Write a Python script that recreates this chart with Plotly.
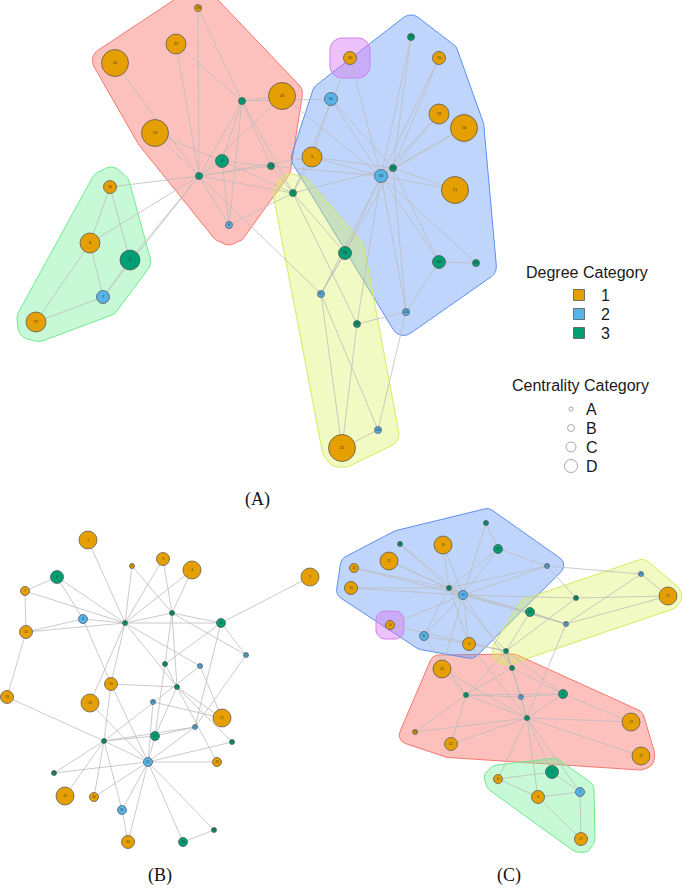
import plotly.graph_objects as go
import numpy as np

# ---------------- DATA ----------------
node_ids = list(range(1, 35))
degree_cat = [3, 3, 3, 3, 3, 1, 2, 2, 1, 1, 1, 1, 1, 3, 1, 1, 1, 1, 1, 1,
              1, 1, 3, 2, 1, 2, 3, 3, 3, 3, 2, 2, 3, 2]
centrality_cat = ['A', 'A', 'A', 'B', 'C', 'C', 'B', 'A', 'C', 'B',
                  'B', 'D', 'D', 'A', 'B', 'D', 'C', 'A', 'C', 'D',
                  'D', 'C', 'A', 'A', 'D', 'A', 'A', 'A', 'B', 'B',
                  'B', 'A', 'A', 'B']
community = ['R', 'R', 'Y', 'R', 'G', 'G', 'G', 'R', 'B', 'P',
             'G', 'R', 'R', 'R', 'B', 'B', 'G', 'R', 'B', 'R',
             'B', 'R', 'B', 'B', 'Y', 'Y', 'B', 'Y', 'Y', 'B',
             'B', 'Y', 'B', 'B']
edges = [(1, 2), (1, 3), (1, 4), (1, 5), (1, 6), (1, 7), (1, 8), (1, 9), (1, 11), (1, 12),
         (1, 13), (1, 14), (1, 18), (1, 20), (1, 22), (1, 32),
         (2, 3), (2, 4), (2, 8), (2, 14), (2, 18), (2, 20), (2, 22), (2, 31),
         (3, 4), (3, 8), (3, 9), (3, 10), (3, 14), (3, 28), (3, 29), (3, 33),
         (4, 8), (4, 13), (4, 14), (5, 7), (5, 11), (6, 7), (6, 11), (6, 17), (7, 17),
         (9, 31), (9, 33), (9, 34), (10, 34), (14, 34), (15, 33), (15, 34), (16, 33), (16, 34),
         (19, 33), (19, 34), (20, 34), (21, 33), (21, 34), (23, 33), (23, 34),
         (24, 26), (24, 28), (24, 30), (24, 33), (24, 34), (25, 26), (25, 28), (25, 32),
         (26, 32), (27, 30), (27, 34), (28, 34), (29, 32), (29, 34), (30, 33), (30, 34),
         (31, 33), (31, 34), (32, 33), (32, 34), (33, 34)]

degree_labels = ['1', '2', '3']
centrality_labels = ['A', 'B', 'C', 'D']
panel_labels = ['(A)', '(B)', '(C)']

# layout coordinates (node id order)
layout_A_x = [199, 242, 293, 222, 130, 90, 103, 229, 312, 350, 110, 115, 155, 271, 439, 464, 36, 198, 439, 282,
              455, 176, 411, 406, 342, 378, 476, 357, 345, 439, 331, 321, 393, 381]
layout_A_y = [176, 101, 193, 161, 260, 243, 297, 225, 157, 58, 187, 63, 133, 166, 58, 128, 322, 8, 114, 96,
              190, 44, 37, 312, 448, 430, 263, 324, 253, 262, 99, 294, 168, 176]
layout_C_x = [527, 466, 506, 563, 552, 538, 580, 521, 469, 390, 498, 641, 631, 512, 354, 443, 581, 415, 351, 442,
              389, 451, 400, 547, 668, 641, 486, 576, 530, 498, 424, 566, 449, 463]
layout_C_y = [718, 695, 651, 694, 772, 797, 792, 697, 644, 625, 779, 756, 722, 668, 568, 545, 839, 732, 588, 669,
              561, 744, 544, 566, 596, 574, 523, 598, 612, 549, 636, 624, 588, 595]

# panel B
b_x = [88, 132, 163, 192, 310, 57, 25, 83, 125, 172, 221, 26, 246, 165, 200, 111, 177, 7, 90, 153,
       222, 195, 155, 104, 232, 217, 148, 54, 65, 94, 122, 128, 183, 214]
b_y = [540, 566, 559, 570, 577, 577, 591, 619, 623, 613, 623, 632, 655, 664, 666, 684, 687, 697, 703, 702,
       718, 727, 736, 741, 742, 762, 762, 773, 796, 797, 810, 842, 842, 830]
b_deg = [1, 1, 1, 1, 1, 3, 1, 2, 3, 3, 3, 1, 2, 3, 2, 1, 3, 1, 1, 2, 1, 2, 3, 3, 3, 1, 2, 3, 1, 1, 2, 1, 3, 3]
b_cent = ['D', 'A', 'C', 'D', 'D', 'C', 'B', 'B', 'A', 'A', 'B', 'C', 'A', 'A', 'A', 'C', 'A', 'C', 'D', 'A',
          'D', 'A', 'B', 'A', 'A', 'B', 'B', 'A', 'D', 'B', 'B', 'C', 'B', 'A']
b_edges = [(1, 9), (2, 9), (2, 10), (3, 9), (3, 10), (4, 9), (4, 10), (5, 11), (6, 7), (6, 9), (6, 8), (7, 12),
           (7, 9), (8, 9), (8, 12), (8, 16), (9, 10), (9, 11), (12, 9), (12, 18), (9, 16), (9, 17), (9, 15),
           (9, 19), (10, 11), (10, 13), (10, 17), (10, 23), (11, 14), (11, 22), (11, 13), (13, 22), (14, 17),
           (15, 24), (15, 21), (16, 17), (16, 24), (16, 27), (17, 23), (17, 21), (17, 26), (17, 25), (18, 24),
           (19, 27), (20, 21), (20, 27), (22, 23), (22, 24), (22, 27), (23, 24), (23, 27), (24, 27), (24, 29),
           (24, 30), (24, 31), (24, 28), (25, 27), (26, 27), (27, 28), (27, 30), (27, 31), (27, 32), (27, 33),
           (27, 34), (33, 34), (31, 32)]

# ---------------- STYLE ----------------
deg_colors = {1: '#E69F00', 2: '#56B4E9', 3: '#009E73'}
size_big = {'A': 7, 'B': 13, 'C': 20, 'D': 27}
size_small = {'A': 5, 'B': 9, 'C': 13, 'D': 18}
hull_style = {
    'R': ('#F8766D', 'rgba(248,118,109,0.45)'),
    'Y': ('#D2EC5C', 'rgba(216,242,95,0.38)'),
    'G': ('#6EEB8E', 'rgba(110,240,150,0.38)'),
    'B': ('#5B8FF0', 'rgba(97,150,245,0.40)'),
    'P': ('#D67CF0', 'rgba(215,120,245,0.45)'),
}
EDGE_COLOR = '#BDBDBD'
OUTLINE = '#4D4D4D'


def convex_hull(points):
    pts = sorted(set(points))
    if len(pts) <= 2:
        return pts

    def cross(o, a, b):
        return (a[0] - o[0]) * (b[1] - o[1]) - (a[1] - o[1]) * (b[0] - o[0])
    lower = []
    for p in pts:
        while len(lower) >= 2 and cross(lower[-2], lower[-1], p) <= 0:
            lower.pop()
        lower.append(p)
    upper = []
    for p in reversed(pts):
        while len(upper) >= 2 and cross(upper[-2], upper[-1], p) <= 0:
            upper.pop()
        upper.append(p)
    return lower[:-1] + upper[:-1]


def mark_hull(xs, ys, expand, radius, mlimit=1.6):
    hull = convex_hull(list(zip(xs, ys)))
    d = expand - radius
    if len(hull) == 1:
        x0, y0 = hull[0]
        core = [(x0 - d, y0 - d), (x0 + d, y0 - d), (x0 + d, y0 + d), (x0 - d, y0 + d)]
    elif len(hull) == 2:
        a, b = np.array(hull[0], float), np.array(hull[1], float)
        e = (b - a) / np.linalg.norm(b - a)
        nrm = np.array([e[1], -e[0]])
        core = [tuple(a - e * d + nrm * d), tuple(a - e * d - nrm * d),
                tuple(b + e * d - nrm * d), tuple(b + e * d + nrm * d)]
    else:
        H = np.array(hull, float)
        c = H.mean(axis=0)
        n = len(H)
        core = []

        def outward(a, b):
            e = (b - a) / np.linalg.norm(b - a)
            nrm = np.array([e[1], -e[0]])
            if np.dot(nrm, (a + b) / 2 - c) < 0:
                nrm = -nrm
            return nrm
        for i in range(n):
            p0, p1, p2 = H[i - 1], H[i], H[(i + 1) % n]
            n1, n2 = outward(p0, p1), outward(p1, p2)
            bis = n1 + n2
            bl = np.linalg.norm(bis)
            cos_half = bl / 2
            if cos_half < 1.0 / mlimit:
                core.append(tuple(p1 + n1 * d))
                core.append(tuple(p1 + bis / bl * d))
                core.append(tuple(p1 + n2 * d))
            else:
                core.append(tuple(p1 + bis / bl * d / cos_half))
    t = np.linspace(0, 2 * np.pi, 72, endpoint=False)
    pts = [(x + radius * np.cos(a), y + radius * np.sin(a)) for (x, y) in core for a in t]
    final = convex_hull(pts)
    final.append(final[0])
    return [p[0] for p in final], [p[1] for p in final]


fig = go.Figure()


def add_hulls(xs, ys, expand, radius):
    for g in ['R', 'B', 'Y', 'G', 'P']:
        gx = [xs[i] for i in range(len(xs)) if community[i] == g]
        gy = [ys[i] for i in range(len(ys)) if community[i] == g]
        hx, hy = mark_hull(gx, gy, expand, radius)
        lc, fc = hull_style[g]
        fig.add_trace(go.Scatter(x=hx, y=hy, mode='lines', fill='toself', fillcolor=fc,
                                 line=dict(color=lc, width=1), hoverinfo='skip', showlegend=False))


def add_network(xs, ys, elist, degs, cents, labels, sizemap, fsize):
    ex, ey = [], []
    for a, b in elist:
        ex += [xs[a - 1], xs[b - 1], None]
        ey += [ys[a - 1], ys[b - 1], None]
    fig.add_trace(go.Scatter(x=ex, y=ey, mode='lines', line=dict(color=EDGE_COLOR, width=0.8),
                             hoverinfo='skip', showlegend=False))
    fig.add_trace(go.Scatter(
        x=xs, y=ys, mode='markers+text', text=[str(l) for l in labels],
        textposition='middle center', textfont=dict(size=fsize, color='#333333', family='Liberation Sans'),
        marker=dict(size=[sizemap[c] for c in cents], color=[deg_colors[d] for d in degs],
                    line=dict(color=OUTLINE, width=0.7), opacity=1),
        hoverinfo='text', showlegend=False))


# Panel A
add_hulls(layout_A_x, layout_A_y, 20, 12)
add_network(layout_A_x, layout_A_y, edges, degree_cat, centrality_cat, node_ids, size_big, 4)
# Panel C
add_hulls(layout_C_x, layout_C_y, 14, 9)
add_network(layout_C_x, layout_C_y, edges, degree_cat, centrality_cat, node_ids, size_small, 3)
# Panel B
add_network(b_x, b_y, b_edges, b_deg, b_cent, list(range(1, 35)), size_small, 3)

# Legend (manual)
leg_font = dict(family='Liberation Sans', size=16, color='#1a1a1a')
fig.add_annotation(x=587, y=272, text='Degree Category', showarrow=False, font=leg_font, xanchor='center')
deg_y = [295, 314, 333]
fig.add_trace(go.Scatter(x=[579] * 3, y=deg_y, mode='markers',
                         marker=dict(symbol='square', size=11, color=[deg_colors[int(k)] for k in degree_labels],
                                     line=dict(color='#555555', width=0.8)),
                         hoverinfo='skip', showlegend=False))
for yv, lab in zip(deg_y, degree_labels):
    fig.add_annotation(x=599, y=yv, text=lab, showarrow=False, font=leg_font, xanchor='left')
fig.add_annotation(x=580, y=385, text='Centrality Category', showarrow=False, font=leg_font, xanchor='center')
cent_y = [409, 428, 447, 466]
fig.add_trace(go.Scatter(x=[571] * 4, y=cent_y, mode='markers',
                         marker=dict(symbol='circle-open', size=[4, 7, 10, 13], color='#777777',
                                     line=dict(color='#777777', width=0.9)),
                         hoverinfo='skip', showlegend=False))
for yv, lab in zip(cent_y, centrality_labels):
    fig.add_annotation(x=584, y=yv, text=lab, showarrow=False, font=leg_font, xanchor='left')

# Panel captions
cap_font = dict(family='Liberation Serif', size=18, color='#111111')
for (cx, cy), lab in zip([(257, 499), (160, 875), (509, 875)], panel_labels):
    fig.add_annotation(x=cx, y=cy, text=lab, showarrow=False, font=cap_font, xanchor='center', borderpad=0)

fig.update_layout(width=685, height=888, margin=dict(l=0, r=0, t=0, b=0),
                  paper_bgcolor='white', plot_bgcolor='white', showlegend=False,
                  xaxis=dict(range=[0, 685], visible=False, fixedrange=True),
                  yaxis=dict(range=[888, 0], visible=False, fixedrange=True))
fig.write_html('out.html', config={'displayModeBar': False},
               post_script="document.body.style.margin='0px';document.body.style.overflow='hidden';")
